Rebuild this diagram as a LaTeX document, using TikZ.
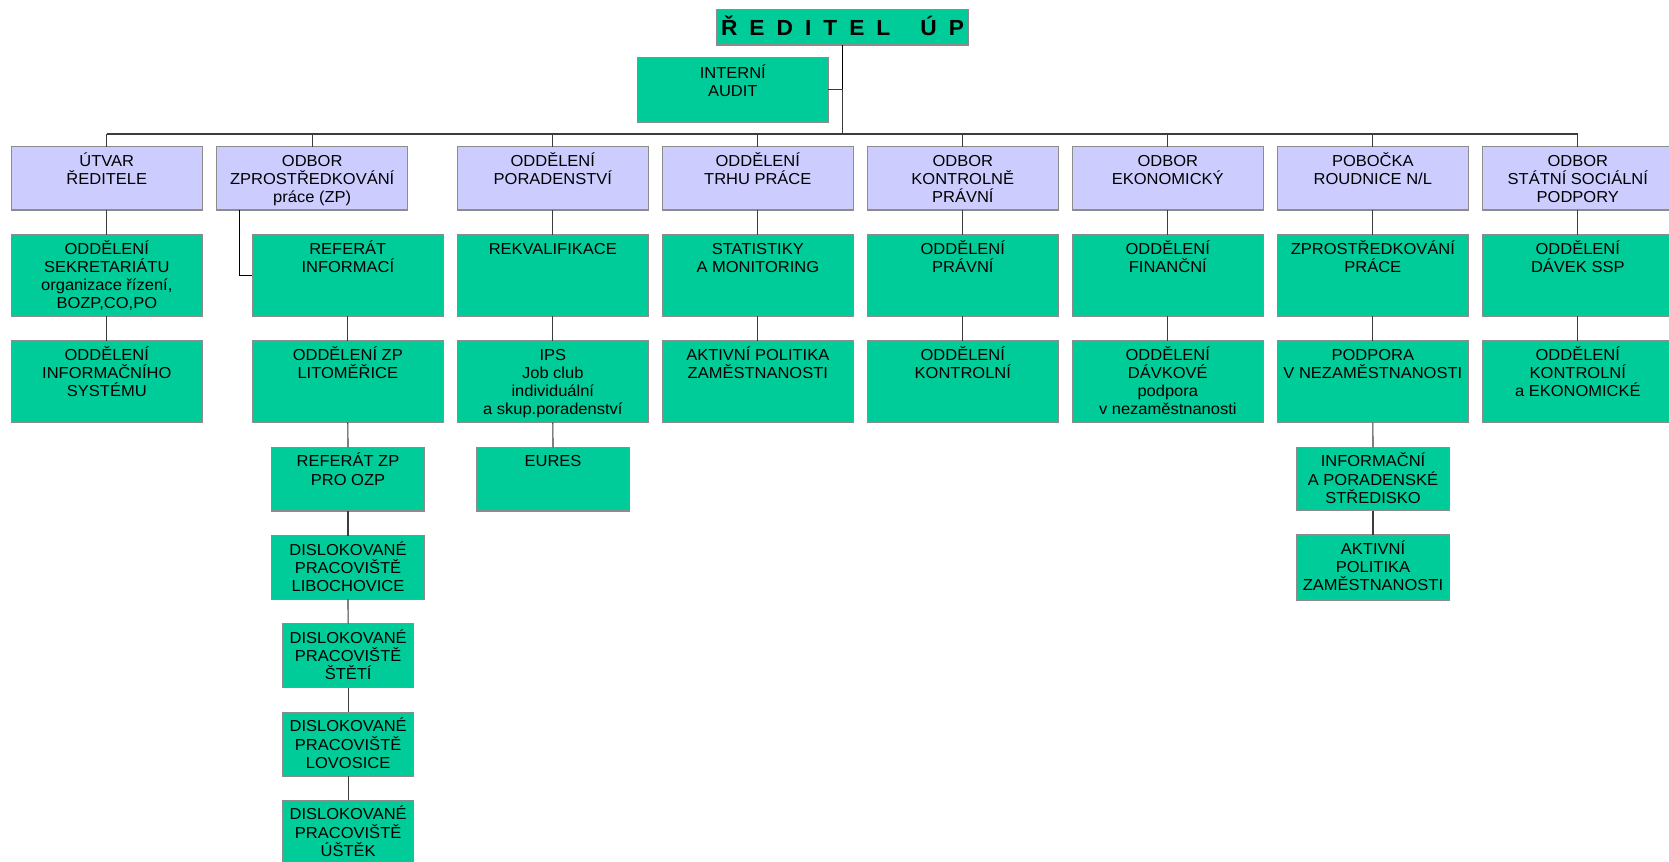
\documentclass[tikz,border=0pt]{standalone}
\usepackage{fontspec}
\setmainfont[FakeStretch=1.04]{Liberation Sans}
\definecolor{boxline}{HTML}{8C8C8C}
\definecolor{linkgray}{HTML}{3C3C3C}
\definecolor{unitgreen}{HTML}{00CC99}
\definecolor{deptlav}{HTML}{CCCCFF}
% name, x, y, width, height, fill, text  (pixel units, y grows downward)
\newcommand\orgunit[7]{%
  \node[obox, fill=#6, minimum width=#4*0.75pt, minimum height=#5*0.75pt] (#1) at (#2,#3) {};
  \node[otext] (#1-label) at ([yshift=-2.5pt]#1.north) {\rule{0pt}{12pt}#7};}
\begin{document}
\begin{tikzpicture}[x=0.75pt,y=-0.75pt,
  obox/.style={draw=boxline, line width=1pt, inner sep=0pt, outer sep=0pt, anchor=north west},
  otext/.style={anchor=north, inner sep=0pt, align=center,
    font=\fontsize{11.9pt}{13.6pt}\selectfont, text=black},
  link/.style={draw=linkgray, line width=0.85pt},
]
\useasboundingbox (0,0) rectangle (1669,862);
\clip (0,0) rectangle (1669,862);

% director and internal audit
\node[obox, fill=unitgreen, minimum width=251.6*0.75pt, minimum height=35.7*0.75pt] (director) at (716.7,9.3) {};
\node[anchor=base, inner sep=0pt, font=\fontsize{16.4pt}{18pt}\selectfont\bfseries] (director-label)
  at ([yshift=-5.9pt]director.center)
  {Ř\hspace{9pt}E\hspace{9pt}D\hspace{9pt}I\hspace{9pt}T\hspace{9pt}E\hspace{9pt}L\hspace{22.5pt}Ú\hspace{9pt}P};
\node[obox, fill=unitgreen, minimum width=191*0.75pt, minimum height=64.3*0.75pt] (audit) at (637.3,57.7) {};
\node[otext] (audit-label) at ([yshift=-3.4pt]audit.north) {\rule{0pt}{12pt}INTERNÍ\\AUDIT};

% departments on the main bus
\orgunit{utvar}{11.3}{146.7}{191}{63.3}{deptlav}{ÚTVAR\\ŘEDITELE}
\orgunit{zp}{216.7}{146.7}{191}{63.3}{deptlav}{ODBOR\\ZPROSTŘEDKOVÁNÍ\\práce (ZP)}
\orgunit{porad}{457.3}{146.7}{191}{63.3}{deptlav}{ODDĚLENÍ\\PORADENSTVÍ}
\orgunit{trh}{662.3}{146.7}{191}{63.3}{deptlav}{ODDĚLENÍ\\TRHU PRÁCE}
\orgunit{kontr}{867.3}{146.7}{191}{63.3}{deptlav}{ODBOR\\KONTROLNĚ\\PRÁVNÍ}
\orgunit{ekon}{1072.3}{146.7}{191}{63.3}{deptlav}{ODBOR\\EKONOMICKÝ}
\orgunit{pobocka}{1277.3}{146.7}{191}{63.3}{deptlav}{POBOČKA\\ROUDNICE N/L}
\orgunit{ssp}{1482.3}{146.7}{191}{63.3}{deptlav}{ODBOR\\STÁTNÍ SOCIÁLNÍ\\PODPORY}

% first row of sections
\orgunit{sekret}{11.3}{234.7}{191}{81.3}{unitgreen}{ODDĚLENÍ\\SEKRETARIÁTU\\organizace řízení,\\BOZP,CO,PO}
\orgunit{refinfo}{252.3}{234.7}{191}{81.3}{unitgreen}{REFERÁT\\INFORMACÍ}
\orgunit{rekval}{457.3}{234.7}{191}{81.3}{unitgreen}{REKVALIFIKACE}
\orgunit{stat}{662.3}{234.7}{191}{81.3}{unitgreen}{STATISTIKY\\A MONITORING}
\orgunit{pravni}{867.3}{234.7}{191}{81.3}{unitgreen}{ODDĚLENÍ\\PRÁVNÍ}
\orgunit{financni}{1072.3}{234.7}{191}{81.3}{unitgreen}{ODDĚLENÍ\\FINANČNÍ}
\orgunit{zprostr}{1277.3}{234.7}{191}{81.3}{unitgreen}{ZPROSTŘEDKOVÁNÍ\\PRÁCE}
\orgunit{davkyssp}{1482.3}{234.7}{191}{81.3}{unitgreen}{ODDĚLENÍ\\DÁVEK SSP}

% second row of sections
\orgunit{infsys}{11.3}{341}{191}{81.7}{unitgreen}{ODDĚLENÍ\\INFORMAČNÍHO\\SYSTÉMU}
\orgunit{litom}{252.3}{341}{191}{81.7}{unitgreen}{ODDĚLENÍ ZP\\LITOMĚŘICE}
\orgunit{ips}{457.3}{341}{191}{81.7}{unitgreen}{IPS\\Job club\\individuální\\a skup.poradenství}
\orgunit{apz}{662.3}{341}{191}{81.7}{unitgreen}{AKTIVNÍ POLITIKA\\ZAMĚSTNANOSTI}
\orgunit{kontrolni}{867.3}{341}{191}{81.7}{unitgreen}{ODDĚLENÍ\\KONTROLNÍ}
\orgunit{davkove}{1072.3}{341}{191}{81.7}{unitgreen}{ODDĚLENÍ\\DÁVKOVÉ\\podpora\\v nezaměstnanosti}
\orgunit{podpora}{1277.3}{341}{191}{81.7}{unitgreen}{PODPORA\\V NEZAMĚSTNANOSTI}
\orgunit{kontrek}{1482.3}{341}{191}{81.7}{unitgreen}{ODDĚLENÍ\\KONTROLNÍ\\a EKONOMICKÉ}

% lower levels
\orgunit{refozp}{271.7}{447.3}{152.6}{63.7}{unitgreen}{REFERÁT ZP\\PRO OZP}
\orgunit{liboch}{271.7}{535.7}{152.6}{63.7}{unitgreen}{DISLOKOVANÉ\\PRACOVIŠTĚ\\LIBOCHOVICE}
\orgunit{steti}{283}{623.7}{130.3}{64}{unitgreen}{DISLOKOVANÉ\\PRACOVIŠTĚ\\ŠTĚTÍ}
\orgunit{lovos}{283}{712.3}{130.3}{64}{unitgreen}{DISLOKOVANÉ\\PRACOVIŠTĚ\\LOVOSICE}
\orgunit{ustek}{283}{800.3}{130.3}{64}{unitgreen}{DISLOKOVANÉ\\PRACOVIŠTĚ\\ÚŠTĚK}
\orgunit{eures}{476.7}{447.3}{152.6}{63.7}{unitgreen}{EURES}
\orgunit{infstred}{1296.7}{447.3}{152.6}{63.4}{unitgreen}{INFORMAČNÍ\\A PORADENSKÉ\\STŘEDISKO}
\orgunit{apzpob}{1296.7}{535}{152.6}{65}{unitgreen}{AKTIVNÍ\\POLITIKA\\ZAMĚSTNANOSTI}

% connectors
\coordinate (bus) at (0,134);
\draw[black, line width=1.1pt] (director.south) -- (director.south |- audit.east) coordinate (auditjoin);
\draw[link] (auditjoin) -- (audit.east);
\draw[link] (auditjoin) -- (director.south |- bus);
\draw[link] (utvar.north |- bus) -- (ssp.north |- bus);
\foreach \n in {utvar,zp,porad,trh,kontr,ekon,pobocka,ssp}
  \draw[link] (\n.north) -- (\n.north |- bus);
\draw[link, black] ([xshift=17.25pt]zp.south west) |- (refinfo.west);
\foreach \a/\b in {utvar/sekret,sekret/infsys,
    refinfo/litom,litom/refozp,refozp/liboch,liboch/steti,steti/lovos,lovos/ustek,
    porad/rekval,rekval/ips,ips/eures,
    trh/stat,stat/apz,
    kontr/pravni,pravni/kontrolni,
    ekon/financni,financni/davkove,
    pobocka/zprostr,zprostr/podpora,podpora/infstred,infstred/apzpob,
    ssp/davkyssp,davkyssp/kontrek}
  \draw[link] (\a.south) -- (\b.north);
\end{tikzpicture}
\end{document}
